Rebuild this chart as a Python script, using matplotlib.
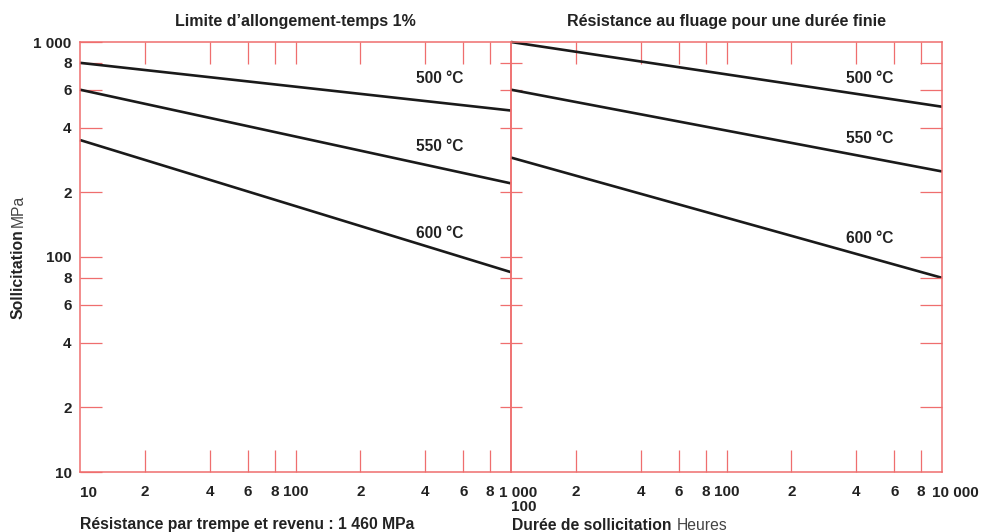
import matplotlib
matplotlib.use('Agg')
import matplotlib.pyplot as plt
from matplotlib.ticker import NullLocator, FixedLocator, FixedFormatter
from matplotlib.transforms import blended_transform_factory

plt.rcParams['font.family'] = ['Liberation Sans', 'DejaVu Sans']

# ---- data ----
temps = ['500 °C', '550 °C', '600 °C']

left_x = [10, 1000]
left_500 = [800, 480]
left_550 = [600, 220]
left_600 = [350, 85]

right_x = [100, 10000]
right_500 = [1000, 500]
right_550 = [600, 250]
right_600 = [290, 80]

y_ticks = [10, 20, 40, 60, 80, 100, 200, 400, 600, 800, 1000]
y_tick_labels = ['10', '2', '4', '6', '8', '100', '2', '4', '6', '8', '1 000']
y_inner_ticks = [20, 40, 60, 80, 100, 200, 400, 600, 800]

left_xticks = [20, 40, 60, 80, 100, 200, 400, 600, 800]
left_xlabels = ['2', '4', '6', '8', '100', '2', '4', '6', '8']
right_xticks = [200, 400, 600, 800, 1000, 2000, 4000, 6000, 8000]
right_xlabels = ['2', '4', '6', '8', '100', '2', '4', '6', '8']

title_left = 'Limite d\u2019allongement-temps 1%'
title_right = 'Résistance au fluage pour une durée finie'

RED = '#ef6e6e'
TXT = '#222222'
LINE = '#1a1a1a'
TL = 15.8  # tick length in points (~22 px)
FS_TICK = 11
FS_TITLE = 11.5
FS_LAB = 11.3
FS_CURVE = 11.2

fig = plt.figure(figsize=(9.81, 5.32), dpi=100)
W, H = 981, 532
ax1 = fig.add_axes([80 / W, 1 - 472 / H, 431 / W, 430 / H])
ax2 = fig.add_axes([511 / W, 1 - 472 / H, 431 / W, 430 / H])

for ax, xl in ((ax1, (10, 1000)), (ax2, (100, 10000))):
    ax.set_xscale('log')
    ax.set_yscale('log')
    ax.set_xlim(*xl)
    ax.set_ylim(10, 1000)
    ax.xaxis.set_minor_locator(NullLocator())
    ax.yaxis.set_minor_locator(NullLocator())
    for s in ax.spines.values():
        s.set_color(RED)
        s.set_linewidth(1.1)
    ax.patch.set_alpha(0)

# x ticks
ax1.xaxis.set_major_locator(FixedLocator(left_xticks))
ax1.xaxis.set_major_formatter(FixedFormatter(left_xlabels))
ax2.xaxis.set_major_locator(FixedLocator(right_xticks))
ax2.xaxis.set_major_formatter(FixedFormatter(right_xlabels))
for ax in (ax1, ax2):
    ax.tick_params(axis='x', which='major', direction='in', length=TL, width=0.9,
                   color=RED, top=True, bottom=True, labelsize=FS_TICK, pad=9.5,
                   labelcolor=TXT)
    for lab in ax.get_xticklabels():
        lab.set_fontweight('bold')

# y ticks left panel (outer left)
ax1.yaxis.set_major_locator(FixedLocator(y_ticks))
ax1.yaxis.set_major_formatter(FixedFormatter(y_tick_labels))
ax1.tick_params(axis='y', which='major', direction='in', length=TL, width=0.9,
                color=RED, left=True, right=False, labelsize=FS_TICK, pad=6,
                labelcolor=TXT)
for lab in ax1.get_yticklabels():
    lab.set_fontweight('bold')

# middle ticks crossing the shared spine
ax2.yaxis.set_major_locator(FixedLocator(y_inner_ticks))
ax2.tick_params(axis='y', which='major', direction='inout', length=TL, width=0.9,
                color=RED, left=True, right=False, labelleft=False)

# right outer ticks
ax2b = ax2.twinx()
ax2b.set_yscale('log')
ax2b.set_ylim(10, 1000)
ax2b.yaxis.set_minor_locator(NullLocator())
ax2b.yaxis.set_major_locator(FixedLocator(y_inner_ticks))
ax2b.tick_params(axis='y', which='major', direction='in', length=TL, width=0.9,
                 color=RED, right=True, left=False, labelright=False)
for s in ax2b.spines.values():
    s.set_visible(False)

# lines
for ys in (left_500, left_550, left_600):
    ax1.plot(left_x, ys, color=LINE, lw=1.9, clip_on=False, solid_capstyle='butt')
for ys in (right_500, right_550, right_600):
    ax2.plot(right_x, ys, color=LINE, lw=1.9, clip_on=False, solid_capstyle='butt')

# curve labels
left_lab_pos = [(468, 673), (468, 325), (468, 128)]
right_lab_pos = [(4634, 680), (4634, 354), (4634, 122)]
for (x, y), t in zip(left_lab_pos, temps):
    ax1.text(x, y, t, ha='center', va='center', fontsize=FS_CURVE,
             fontweight='bold', color=TXT)
for (x, y), t in zip(right_lab_pos, temps):
    ax2.text(x, y, t, ha='center', va='center', fontsize=FS_CURVE,
             fontweight='bold', color=TXT)

# titles
ax1.text(0.5, 1 + 20 / 430, title_left, transform=ax1.transAxes, ha='center',
         va='center', fontsize=FS_TITLE, fontweight='bold', color=TXT)
ax2.text(0.5, 1 + 20 / 430, title_right, transform=ax2.transAxes, ha='center',
         va='center', fontsize=FS_TITLE, fontweight='bold', color=TXT)

# special x labels
tb1 = blended_transform_factory(ax1.transData, ax1.transAxes)
tb2 = blended_transform_factory(ax2.transData, ax2.transAxes)
ax1.annotate('10', xy=(10, 0), xycoords=tb1, xytext=(0, -15),
             textcoords='offset points', ha='left', va='center', fontsize=FS_TICK,
             fontweight='bold', color=TXT)
ax1.annotate('1 000', xy=(1000, 0), xycoords=tb1, xytext=(5, -15),
             textcoords='offset points', ha='center', va='center', fontsize=FS_TICK,
             fontweight='bold', color=TXT)
ax2.annotate('100', xy=(100, 0), xycoords=tb2, xytext=(9.5, -25.5),
             textcoords='offset points', ha='center', va='center', fontsize=FS_TICK,
             fontweight='bold', color=TXT)
ax2.annotate('10 000', xy=(10000, 0), xycoords=tb2, xytext=(9.5, -15),
             textcoords='offset points', ha='center', va='center', fontsize=FS_TICK,
             fontweight='bold', color=TXT)

# bottom texts
fig.text(80 / W, 1 - 525 / H, 'Résistance par trempe et revenu : 1 460 MPa',
         ha='left', va='center', fontsize=FS_LAB, fontweight='bold', color=TXT)
fig.text(512 / W, 1 - 525 / H, 'Durée de sollicitation',
         ha='left', va='center', fontsize=FS_LAB, fontweight='bold', color=TXT)
fig.text(677 / W, 1 - 525 / H, 'Heures', ha='left', va='center', fontsize=FS_LAB,
         color='#444444')

# y label
fig.text(18 / W, 1 - 319 / H, 'Sollicitation', rotation=90, ha='center',
         va='bottom', fontsize=FS_LAB, fontweight='bold', color=TXT)
fig.text(18 / W, 1 - 227 / H, 'MPa', rotation=90, ha='center', va='bottom',
         fontsize=FS_LAB, color='#444444')

fig.savefig('out.png', dpi=100)
